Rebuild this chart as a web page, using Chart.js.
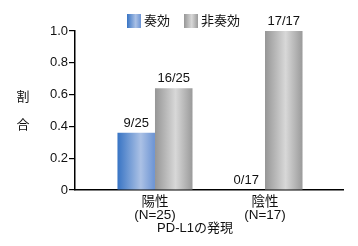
<!DOCTYPE html>
<html>
<head>
<meta charset="utf-8">
<script src="https://cdn.jsdelivr.net/npm/chart.js@4.4.1/dist/chart.umd.min.js"></script>
<style>
  html, body { margin: 0; padding: 0; background: #fff; }
  #wrap { width: 358px; height: 246px; position: relative; }
</style>
</head>
<body>
<div id="wrap"><canvas id="chart"></canvas></div>
<script>
const groups = [['陽性', '(N=25)'], ['陰性', '(N=17)']];
const seriesNames = ['奏効', '非奏効'];
const responders = [0.36, 0];
const nonResponders = [0.64, 1.0];
const responderLabels = ['9/25', '0/17'];
const nonResponderLabels = ['16/25', '17/17'];
const yTicks = [0, 0.2, 0.4, 0.6, 0.8, 1.0];
const yTitle = ['割', '合'];
const xTitle = 'PD-L1の発現';

const FONT = "'Liberation Sans', Arial, 'Noto Sans CJK JP', sans-serif";
Chart.defaults.font.family = FONT;
Chart.defaults.color = '#111';

const blueStops = [[0, '#3874c4'], [0.62, '#abc1e5'], [1, '#6b93d3']];
const grayStops = [[0, '#969696'], [0.55, '#d8d8d8'], [1, '#9a9a9a']];
const stops = [blueStops, grayStops];
const valueLabels = [responderLabels, nonResponderLabels];

function addStops(grad, list) {
    list.forEach(function (s) { grad.addColorStop(s[0], s[1]); });
    return grad;
}

const gradientBars = {
    id: 'gradientBars',
    beforeDatasetsDraw(chart) {
        const ctx = chart.ctx;
        chart.data.datasets.forEach(function (ds, di) {
            chart.getDatasetMeta(di).data.forEach(function (el) {
                const g = ctx.createLinearGradient(el.x - el.width / 2, 0, el.x + el.width / 2, 0);
                el.options = Object.assign({}, el.options, { backgroundColor: addStops(g, stops[di]) });
            });
        });
    }
};

const barLabels = {
    id: 'barLabels',
    afterDatasetsDraw(chart) {
        const ctx = chart.ctx;
        ctx.save();
        ctx.font = '13px ' + FONT;
        ctx.fillStyle = '#111';
        ctx.textAlign = 'center';
        ctx.textBaseline = 'bottom';
        chart.data.datasets.forEach(function (ds, di) {
            chart.getDatasetMeta(di).data.forEach(function (el, i) {
                ctx.fillText(valueLabels[di][i], el.x, el.y - 3);
            });
        });
        ctx.restore();
    }
};

const extras = {
    id: 'extras',
    afterDraw(chart) {
        const ctx = chart.ctx;
        ctx.save();
        // legend
        ctx.font = '13px ' + FONT;
        ctx.textBaseline = 'middle';
        ctx.textAlign = 'left';
        const legendX = [127, 184];
        seriesNames.forEach(function (name, i) {
            const g = ctx.createLinearGradient(legendX[i], 0, legendX[i] + 14, 0);
            ctx.fillStyle = addStops(g, stops[i]);
            ctx.fillRect(legendX[i], 14, 14, 14);
            ctx.fillStyle = '#111';
            ctx.fillText(name, legendX[i] + 17, 21);
        });
        // y title
        ctx.textAlign = 'center';
        yTitle.forEach(function (ch, i) {
            ctx.fillText(ch, 23, 97 + i * 28);
        });
        // x title
        ctx.fillText(xTitle, 195, 228);
        ctx.restore();
    }
};

new Chart(document.getElementById('chart'), {
    type: 'bar',
    data: {
        datasets: [{
            label: seriesNames[0],
            data: responders.map(function (v, i) { return { x: i, y: v }; }),
            backgroundColor: '#6f9ad8',
            borderWidth: 0
        }, {
            label: seriesNames[1],
            data: nonResponders.map(function (v, i) { return { x: i, y: v }; }),
            backgroundColor: '#bdbdbd',
            borderWidth: 0
        }]
    },
    options: {
        responsive: true,
        maintainAspectRatio: false,
        animation: false,
        categoryPercentage: 0.682,
        barPercentage: 1,
        layout: { padding: { top: 31, right: 15, left: 0, bottom: 0 } },
        plugins: {
            legend: { display: false },
            tooltip: { enabled: false }
        },
        scales: {
            x: {
                type: 'linear',
                offset: false,
                min: -0.727,
                max: 1.709,
                grid: { display: false, offset: false },
                border: { color: '#000', width: 1.5 },
                afterBuildTicks: function (scale) {
                    scale.ticks = groups.map(function (g, i) { return { value: i }; });
                },
                ticks: {
                    callback: function (value) { return groups[value]; },
                    font: { size: 13.5, lineHeight: 0.93 },
                    color: '#111',
                    padding: -2,
                    maxRotation: 0,
                    autoSkip: false
                },
                afterFit: function (scale) { scale.height = 56; }
            },
            y: {
                min: 0,
                max: 1,
                afterBuildTicks: function (scale) {
                    scale.ticks = yTicks.map(function (v) { return { value: v }; });
                },
                ticks: {
                    callback: function (value) { return value === 0 ? '0' : value.toFixed(1); },
                    font: { size: 13 },
                    color: '#111',
                    padding: 1
                },
                grid: { drawOnChartArea: false, tickLength: 6, color: '#000', lineWidth: 1.2 },
                border: { color: '#000', width: 1.5 },
                afterFit: function (scale) { scale.width = 75; }
            }
        }
    },
    plugins: [gradientBars, barLabels, extras]
});
</script>
</body>
</html>
